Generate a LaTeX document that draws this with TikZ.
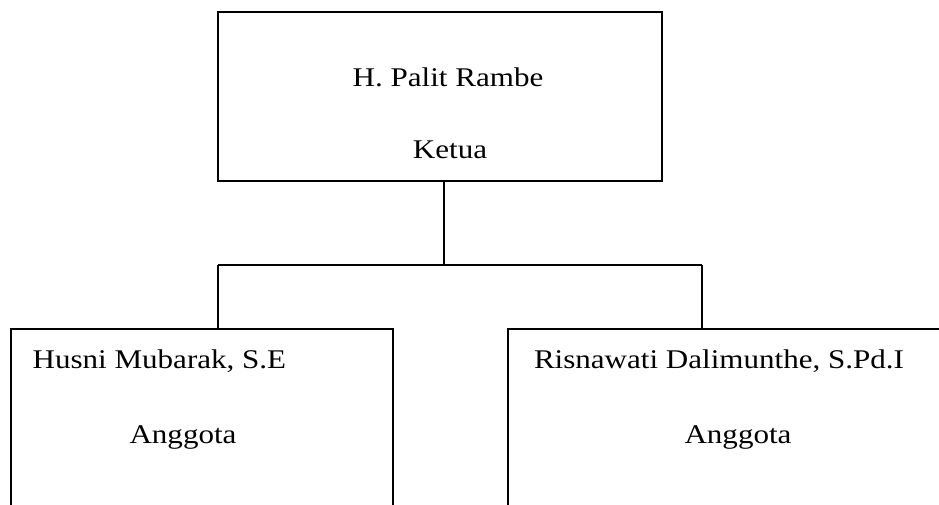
\documentclass[tikz,border=0pt]{standalone}
\usepackage{fontspec}
\setmainfont{Liberation Serif}
\newcommand{\lebar}[1]{\scalebox{1.15}[1]{#1}}

\begin{document}
\begin{tikzpicture}[x=1pt,y=-1pt,line width=1.3pt,
  kotak/.style={draw,rectangle,inner sep=0pt},
  teks/.style={inner sep=0pt,font=\fontsize{27}{32}\selectfont}]
\useasboundingbox (0,0) rectangle (939,504);
\clip (0,0) rectangle (939,504);

% kotak ketua dan anggota
\node[kotak,minimum width=444pt,minimum height=169pt] (ketua) at (440,96.5) {};
\node[kotak,minimum width=382pt,minimum height=220pt] (kiri) at (202,439) {};
\node[kotak,minimum width=460pt,minimum height=220pt] (kanan) at (738,439) {};

\node[teks,anchor=base] (nama1) at (448,86) {\lebar{H. Palit Rambe}};
\node[teks,anchor=base] (jab1) at (450,158) {\lebar{Ketua}};
\node[teks,anchor=base west] (nama2) at (32,368) {\lebar{Husni Mubarak, S.E}};
\node[teks,anchor=base] (jab2) at (183,443) {\lebar{Anggota}};
\node[teks,anchor=base] (nama3) at (719,368) {\lebar{Risnawati Dalimunthe, S.Pd.I}};
\node[teks,anchor=base] (jab3) at (738,443) {\lebar{Anggota}};

% garis penghubung
\coordinate (tengah) at (444,265);
\coordinate (cabangkiri) at (218,265);
\coordinate (cabangkanan) at (702,265);
\draw (tengah |- ketua.south) -- (tengah);
\draw (cabangkiri) -- (cabangkanan);
\draw (cabangkiri) -- (cabangkiri |- kiri.north);
\draw (cabangkanan) -- (cabangkanan |- kanan.north);
\end{tikzpicture}
\end{document}
